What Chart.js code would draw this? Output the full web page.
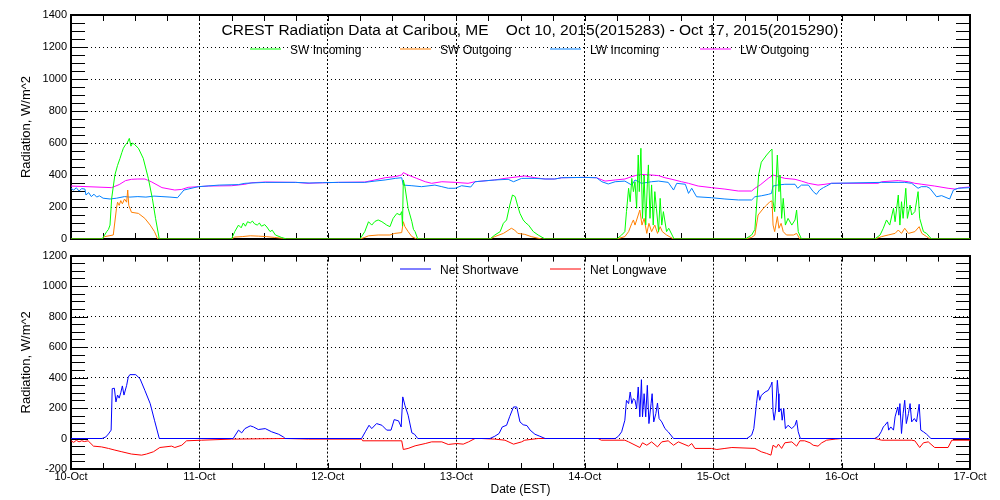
<!DOCTYPE html>
<html>
<head>
<meta charset="utf-8">
<script src="https://cdn.jsdelivr.net/npm/chart.js@4.4.1/dist/chart.umd.min.js"></script>
<style>
html, body { margin: 0; padding: 0; background: #fff; }
.panel { position: absolute; left: 0; width: 1000px; }
#p1 { top: 0; height: 250px; }
#p2 { top: 245px; height: 255px; }
</style>
</head>
<body>
<div class="panel" id="p1"><canvas id="topChart"></canvas></div>
<div class="panel" id="p2"><canvas id="bottomChart"></canvas></div>
<script>
// hours since 10-Oct 00:00 EST, values in W/m^2
const dayLabels = ['10-Oct', '11-Oct', '12-Oct', '13-Oct', '14-Oct', '15-Oct', '16-Oct', '17-Oct'];
const titleText = 'CREST Radiation Data at Caribou, ME    Oct 10, 2015(2015283) - Oct 17, 2015(2015290)';

const swInHours = [0, 5.8, 6.2, 6.67, 7.0, 7.29, 7.6, 8.2, 8.7, 9.16, 9.5, 9.78, 10.2, 10.5, 10.9, 11.2, 11.5, 11.9, 12.6, 13.5, 14.45, 15.2, 15.8, 16.5,
  30.0, 30.6, 31.3, 31.8, 32.2, 32.6, 33.0, 33.5, 33.9, 34.3, 34.8, 35.2, 35.6, 36.2, 36.6, 37.2, 37.6, 38.2, 39.3, 40.3,
  54.0, 54.9, 55.6, 56.2, 56.8, 57.4, 58.1, 59.0, 59.6, 60.2, 60.9, 61.5, 61.8, 61.95, 62.1, 62.4, 63.0, 63.7, 64.0, 64.3, 64.8,
  78.3, 79.2, 80.2, 80.8, 81.4, 82.0, 82.5, 83.0, 83.5, 83.9, 84.5, 85.0, 85.5, 86.4, 87.3, 88.6,
  102.0, 102.9, 103.5, 103.8, 104.2, 104.5, 104.8, 105.1, 105.4, 105.7, 106.0, 106.2, 106.5, 106.8, 107.1, 107.4, 107.7, 107.9, 108.2, 108.5, 108.8, 109.1, 109.4, 109.8, 110.1, 110.4, 110.7, 111.3, 111.7, 112.7,
  126.0, 127.2, 127.8, 128.1, 128.5, 129.0, 130.0, 130.8, 131.0, 131.2, 131.5, 132.0, 132.3, 132.5, 132.8, 133.1, 133.5, 134.0, 134.7, 135.3, 135.6, 135.9, 136.5,
  150.2, 151.2, 151.8, 152.4, 153.0, 153.7, 154.0, 154.6, 154.9, 155.2, 155.5, 156.0, 156.3, 156.8, 157.1, 157.7, 158.3, 158.6, 159.3, 159.9, 160.8, 168];
const swInValues = [0, 0, 20, 46, 60, 87, 254, 400, 460, 504, 540, 567, 590, 600, 629, 580, 600, 590, 567, 504, 379, 254, 129, 0,
  0, 46, 87, 70, 100, 80, 108, 100, 112, 95, 87, 100, 80, 90, 75, 46, 55, 25, 10, 0,
  0, 46, 108, 87, 110, 119, 108, 87, 77, 129, 160, 150, 171, 80, 369, 327, 192, 108, 60, 46, 0,
  0, 25, 46, 98, 119, 212, 275, 265, 204, 160, 119, 100, 87, 46, 25, 0,
  0, 25, 46, 171, 317, 233, 379, 296, 358, 192, 525, 296, 567, 129, 400, 87, 338, 463, 129, 338, 87, 296, 192, 46, 254, 87, 171, 46, 67, 0,
  0, 25, 60, 200, 400, 480, 525, 556, 562, 233, 171, 525, 296, 400, 129, 254, 87, 129, 87, 119, 181, 46, 0,
  0, 25, 67, 119, 87, 192, 108, 275, 87, 233, 129, 317, 129, 212, 150, 171, 296, 129, 46, 35, 0, 0];

const swOutHours = [0, 5.8, 6.3, 7.9, 8.5, 8.7, 9.0, 9.3, 9.6, 10.0, 10.4, 10.6, 10.8, 11.3, 12.6, 13.8, 14.8, 15.6, 16.2,
  30.0, 30.6, 32.0, 33.5, 35.0, 36.5, 38.0, 39.5, 40.0,
  54.0, 54.9, 55.6, 57.4, 59.6, 60.5, 61.8, 62.1, 62.4, 63.0, 63.7, 64.6,
  78.3, 79.2, 80.8, 82.3, 82.9, 83.5, 84.8, 86.0, 87.9,
  102.0, 103.5, 104.2, 104.8, 105.1, 105.4, 106.3, 106.7, 107.1, 107.6, 108.0, 108.5, 109.1, 109.6, 110.1, 110.5, 111.3, 112.6,
  126.0, 127.2, 127.8, 128.4, 129.4, 130.0, 130.6, 131.0, 131.2, 131.5, 132.0, 132.3, 132.7, 133.1, 133.7, 135.0, 135.6, 136.2,
  150.2, 151.5, 152.7, 154.0, 154.6, 155.2, 155.8, 156.5, 157.7, 158.5, 159.0, 159.9, 160.5, 168];
const swOutValues = [0, 0, 15, 25, 192, 230, 210, 240, 220, 250, 230, 306, 210, 167, 160, 129, 87, 46, 0,
  0, 12, 15, 20, 18, 15, 10, 4, 0,
  0, 10, 20, 25, 25, 35, 40, 108, 77, 46, 15, 0,
  0, 15, 35, 67, 56, 35, 29, 15, 0,
  0, 15, 46, 98, 119, 87, 181, 87, 129, 35, 98, 46, 87, 35, 77, 46, 25, 0,
  0, 10, 25, 150, 192, 212, 233, 238, 87, 46, 140, 67, 98, 46, 25, 25, 35, 0,
  0, 15, 25, 35, 56, 35, 67, 35, 46, 77, 35, 15, 0, 0];

const lwInHours = [0, 0.5, 1.0, 1.5, 2.0, 2.6, 2.8, 3.3, 3.8, 4.3, 4.8, 5.3, 6.0, 7.3, 8.5, 10.0, 11.0, 12.5, 14.0, 15.5, 17.0, 18.5, 19.9, 21.1, 23.8, 27.7, 31.3, 32.5, 36.3,
  42, 44.5, 47, 50, 54.9, 56.8, 58.7, 60.6, 61.8, 62.1, 63.7, 65.5, 68, 69.3, 70.5, 71.8, 73, 74.7, 75.5, 79.2, 81.7, 82.7, 84.2,
  86.7, 88.6, 90.4, 91.7, 96, 98.2, 99.2, 100.4, 101.7, 103.5, 104.8, 105.4, 106.6, 108.5, 109.8, 111.6, 112.6, 113.2, 114.8, 115.4, 116, 116.9, 119.7, 122.2, 124.7, 127.2,
  127.8, 129, 130.3, 130.9, 131.2, 132, 133.4, 135.3, 135.8, 136.5, 137.8, 138.7, 139.3, 139.9, 140.6, 141.2, 142.1,
  151.5, 155.8, 157.1, 158.3, 158.9, 159.9, 160.5, 161.75, 162.7, 164.2, 164.9, 165.8, 168];
const lwInValues = [316, 306, 320, 300, 315, 312, 275, 290, 265, 280, 262, 270, 255, 250, 255, 265, 262, 265, 262, 268, 265, 262, 258, 306, 327, 337, 340, 348, 354,
  354, 350, 352, 354, 354, 362, 369, 379, 383, 337, 333, 327, 337, 327, 317, 317, 333, 325, 358, 369, 373, 358, 379,
  379, 375, 375, 383, 385, 383, 358, 344, 358, 362, 337, 369, 348, 358, 362, 354, 306, 348, 342, 285, 317, 264, 258, 250, 244, 244,
  264, 270, 279, 285, 331, 337, 342, 342, 317, 337, 337, 296, 279, 306, 321, 331, 348,
  354, 354, 348, 317, 327, 327, 317, 264, 271, 250, 306, 317, 321];

const lwOutHours = [0, 7.6, 9.0, 10.2, 11.3, 12.5, 13.8, 15.0, 17.0, 19.4, 20.7, 21.9, 23.8, 25.7, 30.0, 32.5, 33.8, 36.3,
  42, 44.3, 45.6, 50, 54.9, 56.8, 58.7, 60.6, 61.8, 62.1, 63.0, 64.6, 66.2, 67.4, 69.3, 71.8, 74.2, 75.5, 79.2, 81.1,
  84.8, 86.7, 88.6, 90.4, 91.7, 96, 98.2, 99.8, 101.7, 103.5, 104.8, 106.3, 108.5, 109.8, 111, 112.3, 114.1, 115.4, 117.2, 119.7, 122.2, 124.7, 127.2,
  127.8, 128.8, 130.3, 131.2, 132.2, 133.4, 135.3, 136.5, 137.8, 139.6, 140.9, 142.1,
  150.8, 151.5, 154.6, 156.5, 157.7, 159, 161.4, 163.9, 165.2, 166.4, 168];
const lwOutValues = [331, 321, 340, 365, 373, 375, 375, 358, 321, 306, 310, 323, 327, 331, 333, 342, 352, 356,
  354, 348, 350, 354, 356, 369, 383, 390, 400, 415, 400, 379, 358, 348, 358, 354, 348, 358, 369, 379,
  394, 383, 375, 375, 383, 385, 383, 362, 369, 375, 390, 404, 400, 396, 383, 373, 358, 348, 331, 321, 312, 300, 300,
  317, 338, 379, 400, 390, 379, 373, 362, 348, 337, 342, 348,
  348, 358, 365, 358, 348, 342, 331, 317, 312, 321, 325];

const netSwHours = [0, 5.8, 6.5, 7.0, 7.5, 7.7, 8.1, 8.4, 8.7, 9.0, 9.3, 9.6, 9.9, 10.4, 10.7, 11.0, 12.1, 12.9, 13.8, 14.8, 15.6, 16.5,
  30.3, 31.3, 31.9, 32.5, 33.5, 34.1, 35.0, 36.3, 37.5, 38.8, 39.7, 40.0,
  54.3, 55.0, 55.7, 56.2, 57.1, 58.1, 59.0, 59.8, 60.4, 61.2, 61.7, 62.0, 62.4, 63.0, 63.7, 64.2, 64.8,
  78.3, 79.2, 80.0, 80.6, 81.4, 82.0, 82.7, 83.3, 83.9, 84.5, 85.2, 85.8, 86.7, 87.6, 88.6,
  101.7, 102.3, 102.9, 103.5, 103.8, 104.2, 104.5, 104.8, 105.1, 105.4, 105.7, 106.0, 106.3, 106.6, 106.8, 107.1, 107.4, 107.7, 108.0, 108.4, 108.6, 108.9, 109.3, 109.6, 109.9, 110.4, 111.0, 111.6, 112.6,
  126.3, 127.2, 127.6, 128.1, 128.4, 128.7, 129.0, 129.7, 130.3, 130.8, 131.0, 131.2, 131.4, 131.7, 132.0, 132.2, 132.3, 132.7, 132.9, 133.2, 133.5, 134.0, 134.7, 135.3, 135.6, 135.9, 136.3,
  150.2, 150.9, 151.4, 151.8, 152.1, 152.6, 152.8, 153.2, 153.7, 154.0, 154.5, 154.7, 154.9, 155.2, 155.5, 155.8, 156.1, 156.5, 156.8, 157.1, 157.6, 158.0, 158.5, 158.8, 159.3, 159.9, 160.7, 168];
const netSwValues = [0, 0, 10, 30, 55, 327, 330, 240, 285, 265, 300, 345, 285, 349, 403, 419, 419, 392, 316, 229, 120, 0,
  0, 55, 37, 65, 83, 76, 59, 65, 44, 28, 10, 0,
  0, 44, 87, 65, 98, 87, 55, 55, 124, 116, 76, 273, 218, 153, 37, 28, 0,
  0, 15, 33, 76, 87, 146, 207, 207, 109, 90, 85, 55, 28, 15, 0,
  0, 15, 44, 120, 251, 229, 305, 229, 262, 251, 196, 338, 142, 386, 142, 294, 142, 349, 98, 229, 294, 109, 164, 233, 131, 109, 65, 44, 0,
  0, 22, 65, 229, 316, 251, 283, 305, 316, 349, 370, 175, 120, 196, 382, 294, 175, 196, 120, 196, 65, 87, 65, 87, 120, 44, 0,
  0, 15, 44, 76, 87, 109, 55, 76, 55, 142, 207, 153, 229, 33, 164, 251, 98, 164, 229, 109, 131, 109, 225, 55, 44, 28, 0, 0];

const netLwHours = [0, 0.5, 1.0, 1.5, 2.0, 2.5, 3.2, 4.2, 5.7, 7.0, 8.2, 9.5, 11.3, 13.2, 14.1, 15.4, 16.6, 18.8, 19.4, 20.7, 21.6, 24.4, 30, 40,
  44.4, 54.3, 54.5, 61.8, 62.1, 63.0, 64.3, 66.2, 67.4, 69.3, 70.5, 72.1, 73.3, 74.3, 75.5, 76.7, 79.2, 81.1, 82.7, 84.2, 84.8, 87.3,
  98.5, 99.1, 103.5, 104.2, 106.3, 106.8, 107.6, 108.5, 109.6, 110.4, 111.6, 112.6, 113.5, 115.4, 116.0, 116.6, 119.7, 120.7, 122.2, 123.5, 127.8,
  129.0, 130.0, 130.8, 131.2, 131.8, 132.2, 132.8, 133.4, 134.7, 135.6, 136.2, 137.1, 138.1, 138.7, 139.6, 140.3, 141.2, 142.8, 144,
  150.2, 151.5, 157.1, 157.7, 158.6, 159.3, 160.2, 161.4, 163.9, 164.6, 168];
const netLwValues = [-15, -25, -12, -22, -15, -20, -15, -50, -55, -65, -76, -87, -102, -109, -102, -87, -59, -50, -59, -44, -15, -11, -4, 0,
  -4, -4, -15, -15, -72, -65, -48, -33, -22, -22, -39, -33, -37, -22, 0, 0, -4, -11, -37, -22, -11, 0,
  0, -11, -11, -22, -59, -28, -44, -22, -55, -22, -15, -44, -22, -50, -33, -65, -65, -72, -65, -59, -65,
  -87, -98, -109, -44, -59, -37, -65, -28, -22, -50, -15, -15, -28, -44, -50, -28, -11, -4, 0,
  0, -11, -11, -15, -59, -28, -22, -59, -59, -11, -11];

const FONT = 'Liberation Sans';

function series(label, color, hours, values) {
    return {
        label: label,
        data: hours.map((h, i) => ({ x: h, y: values[i] })),
        borderColor: color,
        backgroundColor: color,
        borderWidth: 1,
        pointRadius: 0,
        tension: 0,
        fill: false
    };
}

// frame with inward ticks, IDL style
const framePlugin = {
    id: 'frame',
    beforeDatasetsDraw(chart) {
        const { ctx, chartArea: a, scales: { x, y } } = chart;
        ctx.save();
        ctx.strokeStyle = '#000';
        ctx.lineWidth = 1;
        ctx.beginPath();
        for (let v = y.min; v <= y.max; v += 50) {
            const py = Math.round(y.getPixelForValue(v)) + 0.5;
            const len = (v % 200 === 0) ? 17 : 14;
            ctx.moveTo(a.left, py); ctx.lineTo(a.left + len, py);
            ctx.moveTo(a.right, py); ctx.lineTo(a.right - len, py);
        }
        for (let h = x.min; h <= x.max; h += 6) {
            const px = Math.round(x.getPixelForValue(h)) + 0.5;
            ctx.moveTo(px, a.bottom); ctx.lineTo(px, a.bottom - 6);
            ctx.moveTo(px, a.top); ctx.lineTo(px, a.top + 6);
        }
        ctx.stroke();
        ctx.lineWidth = 2;
        ctx.strokeRect(Math.round(a.left), Math.round(a.top), Math.round(a.right - a.left), Math.round(a.bottom - a.top));
        ctx.restore();
    }
};

// title and legend drawn inside the plot box
const headerPlugin = {
    id: 'header',
    afterDatasetsDraw(chart, args, opts) {
        const ctx = chart.ctx;
        ctx.save();
        ctx.fillStyle = '#000';
        ctx.textBaseline = 'middle';
        if (opts.title) {
            ctx.font = '15.5px "' + FONT + '"';
            ctx.textAlign = 'center';
            ctx.fillText(opts.title, opts.titleX, opts.titleY);
        }
        ctx.font = '12px "' + FONT + '"';
        ctx.textAlign = 'left';
        chart.data.datasets.forEach((ds, i) => {
            const x0 = opts.legendX + i * 150;
            ctx.strokeStyle = ds.borderColor;
            ctx.lineWidth = 1;
            ctx.beginPath();
            ctx.moveTo(x0, opts.legendY);
            ctx.lineTo(x0 + 31, opts.legendY);
            ctx.stroke();
            ctx.fillText(ds.label, x0 + 40, opts.legendY + 1.5);
        });
        ctx.restore();
    }
};

function xAxis(showLabels) {
    return {
        type: 'linear',
        min: 0,
        max: 168,
        grid: {
            color: c => (c.tick && (c.tick.value === 0 || c.tick.value === 168)) ? 'rgba(0,0,0,0)' : '#000',
            lineWidth: 1,
            drawTicks: false
        },
        border: { display: false, dash: [2, 2] },
        ticks: {
            display: showLabels,
            stepSize: 24,
            autoSkip: false,
            maxRotation: 0,
            padding: 1,
            color: '#000',
            font: { family: FONT, size: 11 },
            callback: v => dayLabels[Math.round(v / 24)]
        },
        title: {
            display: showLabels,
            text: 'Date (EST)',
            color: '#000',
            font: { family: FONT, size: 12, lineHeight: 1.2 },
            padding: { top: 0, bottom: 3 }
        },
        afterFit: s => { s.height = showLabels ? 31 : 0; }
    };
}

function yAxis(min, max) {
    return {
        min: min,
        max: max,
        grid: {
            color: c => (c.tick && (c.tick.value === min || c.tick.value === max)) ? 'rgba(0,0,0,0)' : '#000',
            lineWidth: 1,
            drawTicks: false
        },
        border: { display: false, dash: [1, 3] },
        ticks: {
            stepSize: 200,
            padding: 4,
            color: '#000',
            font: { family: FONT, size: 11 },
            callback: v => String(v)
        },
        title: {
            display: true,
            text: 'Radiation, W/m^2',
            color: '#000',
            font: { family: FONT, size: 13, lineHeight: 1.2 },
            padding: { top: 19, bottom: 0 }
        },
        afterFit: s => { s.width = 71; }
    };
}

new Chart(document.getElementById('topChart'), {
    type: 'line',
    data: {
        datasets: [
            series('SW Incoming', '#00ff00', swInHours, swInValues),
            series('SW Outgoing', '#ff7f00', swOutHours, swOutValues),
            series('LW Incoming', '#0080ff', lwInHours, lwInValues),
            series('LW Outgoing', '#ff00ff', lwOutHours, lwOutValues)
        ]
    },
    options: {
        responsive: true,
        maintainAspectRatio: false,
        animation: false,
        events: [],
        layout: { padding: { left: 0, right: 30, top: 15, bottom: 11 } },
        scales: { x: xAxis(false), y: yAxis(0, 1400) },
        plugins: {
            legend: { display: false },
            tooltip: { enabled: false },
            header: { title: titleText, titleX: 530, titleY: 31, legendX: 250, legendY: 49 }
        }
    },
    plugins: [framePlugin, headerPlugin]
});

new Chart(document.getElementById('bottomChart'), {
    type: 'line',
    data: {
        datasets: [
            series('Net Shortwave', '#0000ff', netSwHours, netSwValues),
            series('Net Longwave', '#ff0000', netLwHours, netLwValues)
        ]
    },
    options: {
        responsive: true,
        maintainAspectRatio: false,
        animation: false,
        events: [],
        layout: { padding: { left: 0, right: 30, top: 10, bottom: 0 } },
        scales: { x: xAxis(true), y: yAxis(-200, 1200) },
        plugins: {
            legend: { display: false },
            tooltip: { enabled: false },
            header: { title: '', legendX: 400, legendY: 24 }
        }
    },
    plugins: [framePlugin, headerPlugin]
});
</script>
</body>
</html>
